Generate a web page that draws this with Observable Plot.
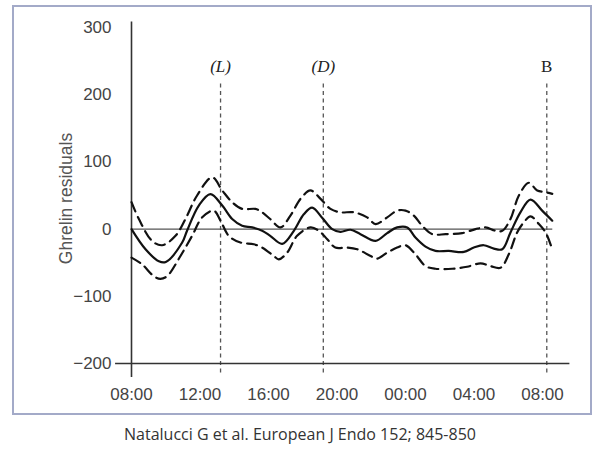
<!DOCTYPE html>
<html><head><meta charset="utf-8">
<script src="https://cdn.jsdelivr.net/npm/d3@7"></script>
<script src="https://cdn.jsdelivr.net/npm/@observablehq/plot@0.6"></script>
<style>
body{margin:0;background:#fff;width:600px;height:459px;position:relative;overflow:hidden}
#frame{position:absolute;left:11.5px;top:5px;width:580px;height:410px;border:2px solid #a3aac8;box-sizing:border-box}
#chart{position:absolute;left:0;top:0}
#caption{position:absolute;top:423px;left:0;width:600px;text-align:center;font-family:"Open Sans";font-size:16px;color:#333}
</style></head>
<body>
<div id="frame"></div><div id="chart"></div><div id="caption">Natalucci G et al. European J Endo 152; 845-850</div>
<script>
// hours since 08:00
const xTickHours = [0, 4, 8, 12, 16, 20, 24];
const xTickLabels = ["08:00", "12:00", "16:00", "20:00", "00:00", "04:00", "08:00"];
const yTicks = [-200, -100, 0, 100, 200, 300];
const yTitle = "Ghrelin residuals";
const mealNames = ["(L)", "(D)", "B"];
const mealHours = [5.2, 11.2, 24.25];

const meanHours = [0, 0.82, 1.6, 2.0, 2.96, 3.25, 3.93, 4.61, 5.3, 5.88, 6.46, 7.05, 7.63, 8.1, 8.8, 9.48, 10.06, 10.55, 11.13, 11.72, 12.2, 12.79, 13.37, 14.25, 14.93, 15.51, 16.1, 16.58, 17.17, 17.75, 18.53, 19.41, 19.99, 20.57, 21.16, 21.65, 22.13, 22.71, 23.3, 23.98, 24.57];
const meanValues = [0, -30, -48, -49, -20, -2, 35, 52, 35, 15, 5, 2.5, -2.5, -10, -22, -2.5, 22, 32, 17, 0, -4, -1, -7.5, -17.5, -6, 2.5, 2.5, -12.5, -26, -32.5, -32.5, -34, -27.5, -24, -29, -30, -5, 25, 44, 27.5, 12.5];

const upperHours = [0, 0.43, 1.2, 1.79, 2.57, 3.15, 3.83, 4.71, 5.3, 5.88, 6.46, 7.24, 7.63, 8.1, 8.7, 9.28, 9.87, 10.45, 11.04, 11.62, 12.2, 12.98, 13.76, 14.25, 14.93, 15.51, 16.0, 16.49, 16.97, 17.56, 18.34, 19.31, 20.09, 20.67, 21.26, 21.65, 22.13, 22.62, 23.2, 23.69, 24.18, 24.57];
const upperValues = [40, 15, -17.5, -24, -10, 15, 50, 77, 57.5, 40, 30, 30, 25, 15, 2.5, 20, 45, 57.5, 45, 30, 25, 25, 17.5, 7.5, 17.5, 27.5, 27.5, 20, 5, -7.5, -7.5, -6, 0, 2.5, -2.5, -2.5, 15, 50, 69, 57.5, 55, 52.5];

const lowerHours = [0, 0.62, 1.3, 1.69, 2.08, 2.86, 3.54, 4.13, 4.8, 5.2, 5.68, 6.36, 7.14, 7.63, 8.31, 8.6, 9.09, 9.67, 10.45, 10.94, 11.43, 11.9, 12.6, 13.18, 13.96, 14.35, 14.93, 15.51, 16.0, 16.58, 17.17, 17.75, 18.73, 19.6, 20.38, 20.96, 21.55, 22.03, 22.52, 22.91, 23.3, 23.79, 24.18, 24.57];
const lowerValues = [-42.5, -52.5, -70, -74, -70, -40, -10, 17.5, 27.5, 12.5, -10, -20, -22.5, -27.5, -40, -45, -35, -10, 2.5, -2.5, -15, -27.5, -27.5, -30, -40, -44, -35, -27.5, -24, -37.5, -55, -59, -59, -56, -51, -55, -57.5, -37.5, -5, 10, 19, 7.5, -5, -30];

const toRows = (hs, vs) => hs.map((h, i) => ({h, v: vs[i]}));
const mean = toRows(meanHours, meanValues);
const upper = toRows(upperHours, upperValues);
const lower = toRows(lowerHours, lowerValues);
const meals = mealNames.map((name, i) => ({name, h: mealHours[i]}));

const font = "Liberation Sans, Arial, sans-serif";
const serif = "Liberation Serif, Times New Roman, serif";
const chart = Plot.plot({
  width: 600,
  height: 420,
  marginLeft: 131,
  marginRight: 58,
  marginTop: 27,
  marginBottom: 57,
  style: {fontFamily: font, fontSize: "17px", color: "#444", background: "transparent"},
  x: {domain: [0, 24]},
  y: {domain: [-200, 300]},
  marks: [
    Plot.ruleX(meals, {x: "h", y1: -214, y2: 220, stroke: "#555", strokeWidth: 1.3, strokeDasharray: "4,3.5"}),
    Plot.text(meals.filter(d => d.name !== "B"), {x: "h", text: "name", frameAnchor: "top", lineAnchor: "middle", dy: 39, fontFamily: serif, fontStyle: "italic", fontSize: 17, fill: "#222"}),
    Plot.text(meals.filter(d => d.name === "B"), {x: "h", text: "name", frameAnchor: "top", lineAnchor: "middle", dy: 39, fontFamily: serif, fontSize: 17, fill: "#222"}),
    Plot.ruleY([0], {x1: 0, x2: 24.6, stroke: "#555", strokeWidth: 1.2}),
    Plot.ruleY([-200], {x1: -0.93, x2: 25.6, stroke: "#333", strokeWidth: 1.6}),
    Plot.ruleX([0], {y1: -221, y2: 308, stroke: "#333", strokeWidth: 1.6}),
    Plot.line(upper, {x: "h", y: "v", curve: "catmull-rom", stroke: "#111", strokeWidth: 2.2, strokeDasharray: "10,6"}),
    Plot.line(lower, {x: "h", y: "v", curve: "catmull-rom", stroke: "#111", strokeWidth: 2.2, strokeDasharray: "10,6"}),
    Plot.line(mean, {x: "h", y: "v", curve: "catmull-rom", stroke: "#111", strokeWidth: 2.2}),
    Plot.axisX({ticks: xTickHours, tickFormat: (d) => xTickLabels[xTickHours.indexOf(d)], tickSize: 0, tickPadding: 24, label: null, fill: "#444", fontFamily: font}),
    Plot.axisY({ticks: yTicks, tickSize: 0, tickPadding: 20, label: null, fill: "#444", fontFamily: font}),
    Plot.text([yTitle], {frameAnchor: "left", textAnchor: "middle", lineAnchor: "middle", dx: -65, dy: 3, rotate: -90, fontSize: 17.5, fill: "#555", fontFamily: font})
  ]
});
document.getElementById("chart").appendChild(chart);
</script>
</body></html>
